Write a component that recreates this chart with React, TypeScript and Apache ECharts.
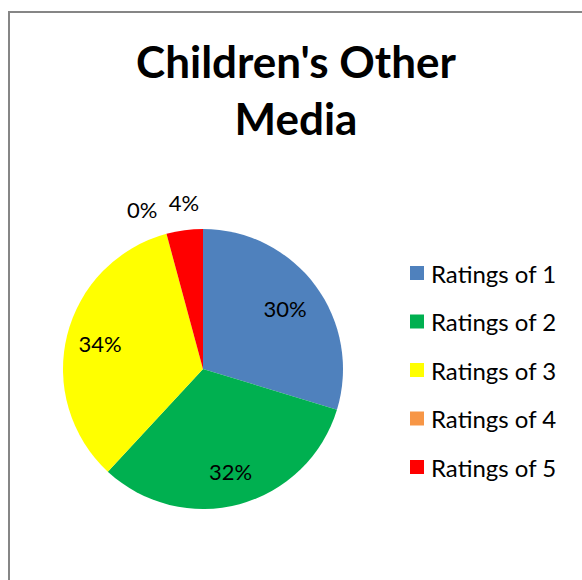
import React, { useEffect, useRef } from "react";
import * as echarts from "echarts";

const categories = ["Ratings of 1", "Ratings of 2", "Ratings of 3", "Ratings of 4", "Ratings of 5"];
const values = [29.7, 32.2, 33.9, 0, 4.2];
const colors = ["#4F81BD", "#00B050", "#FFFF00", "#F79646", "#FF0000"];
const titleText = "Children's Other\nMedia";

const FONT = "Lato, 'Open Sans', sans-serif";

export default function App() {
  const ref = useRef<HTMLDivElement>(null);
  useEffect(() => {
    if (!ref.current) return;
    const chart = echarts.init(ref.current, undefined, { renderer: "svg" });
    const center = [193, 356];
    const R = 140;
    const inside = [0, 1, 2];
    const outer = [3, 4];
    chart.setOption({
      animation: false,
      backgroundColor: "#ffffff",
      title: {
        text: titleText,
        left: 281,
        top: 14,
        textAlign: "center",
        textStyle: {
          fontFamily: FONT,
          fontWeight: "bold",
          fontSize: 44,
          lineHeight: 57,
          color: "#000000",
        },
      },
      legend: {
        orient: "vertical",
        left: 400,
        top: 248,
        padding: 0,
        itemWidth: 14,
        itemHeight: 14,
        itemGap: 24.5,
        icon: "rect",
        data: categories,
        selectedMode: false,
        textStyle: { fontFamily: FONT, fontSize: 24, color: "#000000", padding: [0, 0, 0, 2] },
      },
      series: [
        {
          type: "pie",
          center,
          radius: [0, R],
          startAngle: 90,
          clockwise: true,
          silent: true,
          label: { show: false },
          labelLine: { show: false },
          percentPrecision: 0,
          data: categories.map((name, i) => ({
            name,
            value: values[i],
            itemStyle: { color: colors[i] },
          })),
        },
        {
          type: "pie",
          center,
          radius: [66, R],
          startAngle: 90,
          clockwise: true,
          silent: true,
          avoidLabelOverlap: false,
          percentPrecision: 0,
          labelLine: { show: false },
          data: categories.map((name, i) => ({
            name,
            value: values[i],
            itemStyle: { color: "rgba(0,0,0,0)" },
            label: {
              show: inside.includes(i),
              position: "inside",
              formatter: "{d}%",
              fontFamily: FONT,
              fontSize: 22,
              color: "#000000",
              offset: i === 0 ? [-3, 3] : [0, 0],
            },
          })),
        },
        {
          type: "pie",
          center,
          radius: [150, 180],
          startAngle: 90,
          clockwise: true,
          silent: true,
          avoidLabelOverlap: false,
          percentPrecision: 0,
          labelLine: { show: false },
          data: categories.map((name, i) => ({
            name,
            value: values[i],
            itemStyle: { color: "rgba(0,0,0,0)" },
            label: {
              show: outer.includes(i),
              position: "inside",
              formatter: "{d}%",
              fontFamily: FONT,
              fontSize: 22,
              color: "#000000",
              offset: i === 3 ? [-17, 3] : [3, 0],
            },
          })),
        },
      ],
    });
    return () => chart.dispose();
  }, []);

  return (
    <div
      style={{
        position: "absolute",
        left: 8,
        top: 11,
        width: 574,
        height: 569,
        borderLeft: "2px solid #868686",
        borderTop: "2px solid #868686",
        boxSizing: "border-box",
        background: "#ffffff",
      }}
    >
      <div ref={ref} style={{ width: 572, height: 567 }} />
    </div>
  );
}
